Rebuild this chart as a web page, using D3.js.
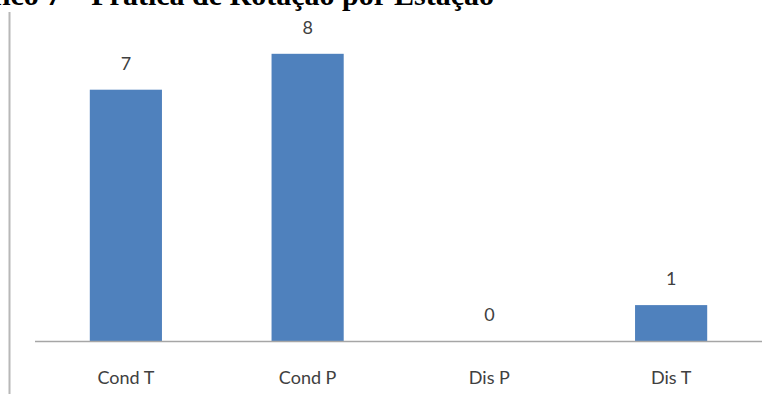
<!DOCTYPE html>
<html>
<head>
<meta charset="utf-8">
<script src="https://cdn.jsdelivr.net/npm/d3@7"></script>
<style>
  html, body { margin: 0; padding: 0; background: #fff; overflow: hidden; }
  svg { display: block; }
</style>
</head>
<body>
<svg id="chart" width="776" height="394"></svg>
<script>
// Rotation practice by station
const categories = ["Cond T", "Cond P", "Dis P", "Dis T"];
const values = [7, 8, 0, 1];
const title = "Gráfico 7 – Prática de Rotação por Estação";

const svg = d3.select("#chart");
const W = 776, H = 394;

const plot = { left: 35, right: 762, top: 18, bottom: 341 };

const x = d3.scaleBand()
  .domain(categories)
  .range([plot.left, plot.right])
  .paddingInner(0)
  .paddingOuter(0);

const y = d3.scaleLinear()
  .domain([0, 9])
  .range([plot.bottom, plot.bottom - 9 * 35.9]);

const barW = x.bandwidth() * 0.397;

// caption above the chart (runs off the top edge of the frame)
svg.append("text")
  .attr("x", 494)
  .attr("y", 5)
  .attr("text-anchor", "end")
  .attr("font-family", "'Liberation Serif', serif")
  .attr("font-weight", "bold")
  .attr("font-size", 30)
  .attr("fill", "#000")
  .text(title);

// left frame border
svg.append("line")
  .attr("x1", 9.5).attr("x2", 9.5)
  .attr("y1", 12).attr("y2", H)
  .attr("stroke", "#b8b8b8")
  .attr("stroke-width", 2);

// bars
svg.append("g")
  .selectAll("rect")
  .data(values)
  .join("rect")
  .attr("x", (d, i) => x(categories[i]) + (x.bandwidth() - barW) / 2)
  .attr("width", barW)
  .attr("y", d => y(d))
  .attr("height", d => y(0) - y(d))
  .attr("fill", "#4f81bd");

// category axis
const xAxis = d3.axisBottom(x).tickSize(0).tickPadding(0);
const gx = svg.append("g")
  .attr("transform", `translate(0,${plot.bottom})`)
  .call(xAxis);
gx.select(".domain")
  .attr("d", `M${plot.left},0.5H${plot.right}`)
  .attr("stroke", "#a6a6a6")
  .attr("stroke-width", 1.5);
gx.selectAll(".tick text")
  .attr("y", 43)
  .attr("dy", 0)
  .attr("font-family", "Lato, 'Open Sans', sans-serif")
  .attr("font-size", 18)
  .attr("fill", "#404040");

// value labels
svg.append("g")
  .selectAll("text")
  .data(values)
  .join("text")
  .attr("x", (d, i) => x(categories[i]) + x.bandwidth() / 2)
  .attr("y", d => y(d) - 20)
  .attr("text-anchor", "middle")
  .attr("font-family", "Lato, 'Open Sans', sans-serif")
  .attr("font-size", 18)
  .attr("fill", "#404040")
  .text(d => d);
</script>
</body>
</html>
